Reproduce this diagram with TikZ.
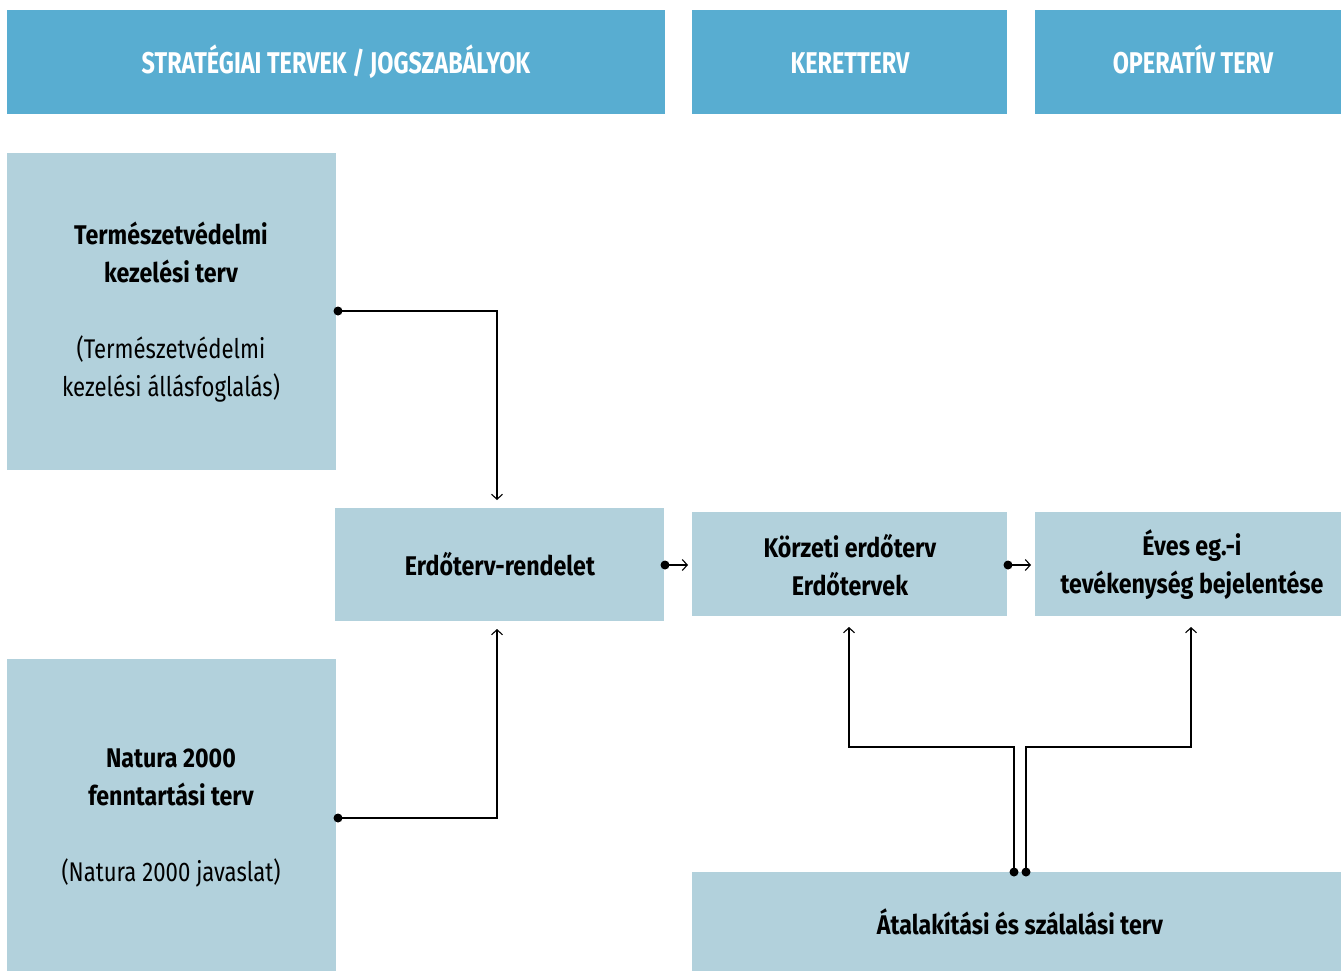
\documentclass[tikz,border=0pt]{standalone}
\usepackage{fontspec}
\setmainfont{Fira Sans}[FakeStretch=0.86]
\newfontfamily\hdrfont{Fira Sans}[FakeStretch=0.78]
\newfontfamily\regfont{Fira Sans}[FakeStretch=0.82]
\usetikzlibrary{arrows.meta}
\definecolor{hdr}{HTML}{58ADD1}
\definecolor{lgt}{HTML}{B2D1DC}
\begin{document}
\begin{tikzpicture}[x=1pt,y=-1pt,
  htext/.style={text=white,inner sep=0pt,anchor=base,font=\hdrfont\fontsize{30}{32}\selectfont\bfseries},
  btext/.style={align=center,inner sep=0pt,font=\fontsize{27}{38}\selectfont\bfseries},
  conn/.style={draw=black,line width=1.1pt,-{Straight Barb[length=5pt,width=11pt,line width=1.1pt]}},
  dotc/.style={circle,fill=black,inner sep=0pt,minimum size=9pt}]
\useasboundingbox (0,0) rectangle (1341,972);
% headers
\fill[hdr] (7,10) rectangle (665,114);
\fill[hdr] (692,10) rectangle (1007,114);
\fill[hdr] (1035,10) rectangle (1341,114);
\node[htext] (h1) at (336,73) {STRATÉGIAI TERVEK / JOGSZABÁLYOK};
\node[htext] (h2) at (850,73) {KERETTERV};
\node[htext] (h3) at (1193,73) {OPERATÍV TERV};
% boxes
\fill[lgt] (7,153) rectangle (336,470);
\fill[lgt] (7,659) rectangle (336,971);
\fill[lgt] (335,508) rectangle (664,621);
\fill[lgt] (692,512) rectangle (1007,616);
\fill[lgt] (1035,512) rectangle (1341,616);
\fill[lgt] (692,872) rectangle (1341,971);
\node[btext] (tv) at (171,312)
  {Természetvédelmi\\kezelési terv\\[38pt]{\regfont\mdseries(Természetvédelmi}\\{\regfont\mdseries kezelési állásfoglalás)}};
\node[btext] (nat) at (171,818)
  {Natura 2000\\fenntartási terv\\[38pt]{\regfont\mdseries(Natura 2000 javaslat)}};
\node[btext,anchor=base] (er) at (500,575) {Erdőterv-rendelet};
\node[btext] (kz) at (850,565) {Körzeti erdőterv\\Erdőtervek};
\node[btext] (ev) at (1192,565) {Éves eg.-i\\tevékenység bejelentése};
\node[btext,anchor=base] (at) at (1020,934) {Átalakítási és szálalási terv};
% connector anchors
\coordinate (a1) at (338,311);
\coordinate (a2) at (338,818);
\coordinate (erT) at (497,500);
\coordinate (erB) at (497,629);
\coordinate (erR) at (665,565);
\coordinate (kzL) at (688,565);
\coordinate (kzR) at (1008,565);
\coordinate (evL) at (1031,565);
\coordinate (kzB) at (849,627);
\coordinate (evB) at (1191,627);
\coordinate (at1) at (1014,872);
\coordinate (at2) at (1026,872);
\draw[conn] (a1) -| (erT);
\draw[conn] (a2) -| (erB);
\draw[conn] (erR) -- (kzL);
\draw[conn] (kzR) -- (evL);
\draw[conn] (at1) -- (1014,747) -| (kzB);
\draw[conn] (at2) -- (1026,747) -| (evB);
\foreach \p in {a1,a2,erR,kzR,at1,at2} \node[dotc] at (\p) {};
\end{tikzpicture}
\end{document}
